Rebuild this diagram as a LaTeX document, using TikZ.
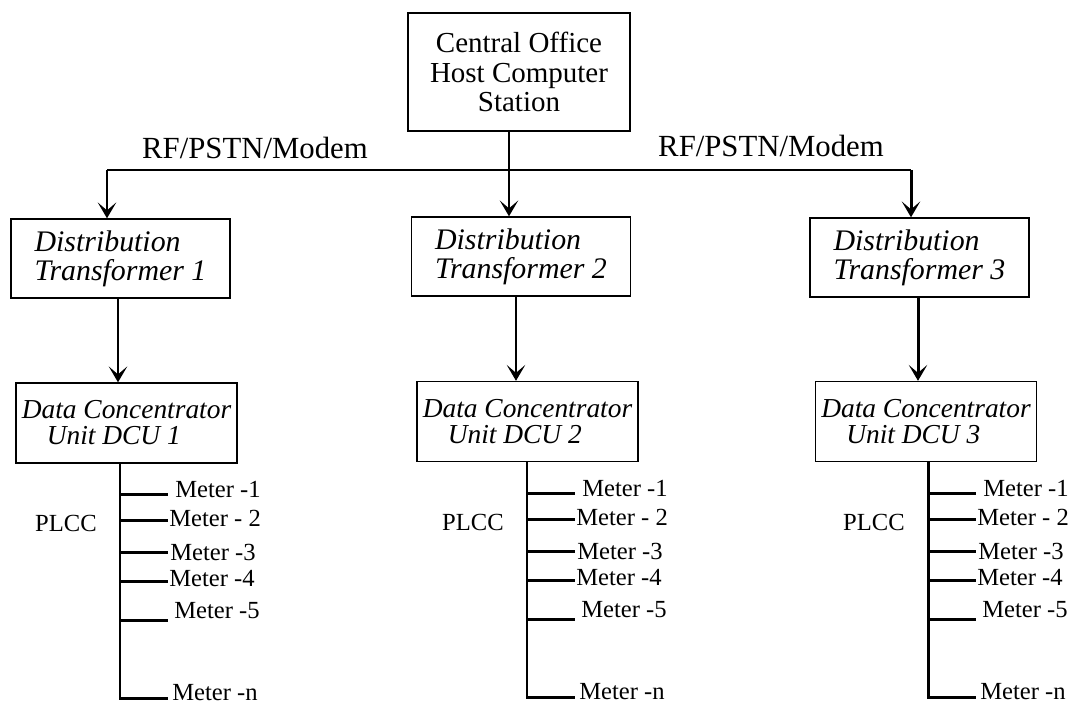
\documentclass[tikz,border=0pt]{standalone}
\usepackage{fontspec}
\setmainfont{Liberation Serif}
\usepackage{tikz}
\usetikzlibrary{arrows.meta,positioning,calc}

\begin{document}
\begin{tikzpicture}[x=0.02cm,y=-0.02cm,>={Stealth[length=9pt,width=10.5pt,inset=4.5pt]},
                    box/.style={draw,line width=0.8pt,inner ysep=0pt},
                    wire/.style={line width=1.7pt},
                    host/.style={box,minimum width=4.44cm,minimum height=2.36cm,align=center,
                                 font=\fontsize{16.5}{17}\selectfont},
                    trafo/.style={box,minimum width=4.38cm,minimum height=1.58cm,
                                  align=left,font=\fontsize{17}{16.5}\selectfont\itshape},
                    dcu/.style={box,minimum width=4.38cm,minimum height=1.6cm,
                                align=left,font=\fontsize{15.6}{14.8}\selectfont\itshape},
                    meter/.style={anchor=west,inner sep=0pt,font=\fontsize{14}{14}\selectfont}]
  \useasboundingbox (0,0) rectangle (1069,705);

  \node[host] (central) at (519,72) {Central Office\\Host Computer\\Station};

  \node[trafo] (dt1) at (120.5,258.5) {Distribution\\Transformer 1};
  \node[trafo] (dt2) at (521,256.5)   {Distribution\\Transformer 2};
  \node[trafo] (dt3) at (919.5,257.5) {Distribution\\Transformer 3};

  \node[dcu] (dcu1) at (126.5,423) {Data Concentrator\\\hspace*{0.5cm}Unit DCU 1};
  \node[dcu] (dcu2) at (527.5,421.5) {Data Concentrator\\\hspace*{0.5cm}Unit DCU 2};
  \node[dcu] (dcu3) at (926,421.5)   {Data Concentrator\\\hspace*{0.5cm}Unit DCU 3};

  \node[font=\fontsize{17.5}{17}\selectfont] (rf1) at (255,148) {RF/PSTN/Modem};
  \node[font=\fontsize{17.5}{17}\selectfont] (rf2) at (771,146) {RF/PSTN/Modem};

  % RF/PSTN/Modem links
  \coordinate (bus) at (509,170);
  \coordinate (rfL) at (107,170);
  \coordinate (rfR) at (911,170);
  \draw[wire] (central.south -| bus) -- (bus);
  \draw[wire] (rfL) -- (rfR);
  \draw[wire,->] (rfL) -- (rfL |- dt1.north);
  \draw[wire,->] (bus) -- (bus |- dt2.north);
  \draw[wire,->] (rfR) -- (rfR |- dt3.north);

  \foreach \i/\dx in {1/-2.5,2/-5,3/-1.5}
    \draw[wire,->] ([xshift=\dx*0.02cm]dt\i.south) -- ([xshift=\dx*0.02cm]dt\i.south |- dcu\i.north);

  % PLCC meter lines
  \foreach \i/\bx in {1/120,2/527,3/928} {
    \coordinate (top\i) at (\bx,0);
    \coordinate (bot\i) at (top\i |- dcu\i.south);
    \draw[wire] (bot\i) -- ++(0,235) -- ++(48,0);
    \node[font=\fontsize{14}{14}\selectfont] (plcc\i) at ($(bot\i)+(-54,60)$) {PLCC};
    \foreach \k/\y/\dx/\dy/\lab in {1/31/7/-5/{Meter -1},2/57/1/-2/{Meter - 2},3/89/2/0/{Meter -3},
                                     4/118/1/-3/{Meter -4},5/157/6/-10/{Meter -5},n/235/4/-6/{Meter -n}} {
      \draw[wire] ($(bot\i)+(0,\y)$) -- ++(48,0) coordinate (end\i\k);
      \node[meter] (m\i\k) at ($(end\i\k)+(\dx,\dy)$) {\lab};
    }
  }
\end{tikzpicture}
\end{document}
